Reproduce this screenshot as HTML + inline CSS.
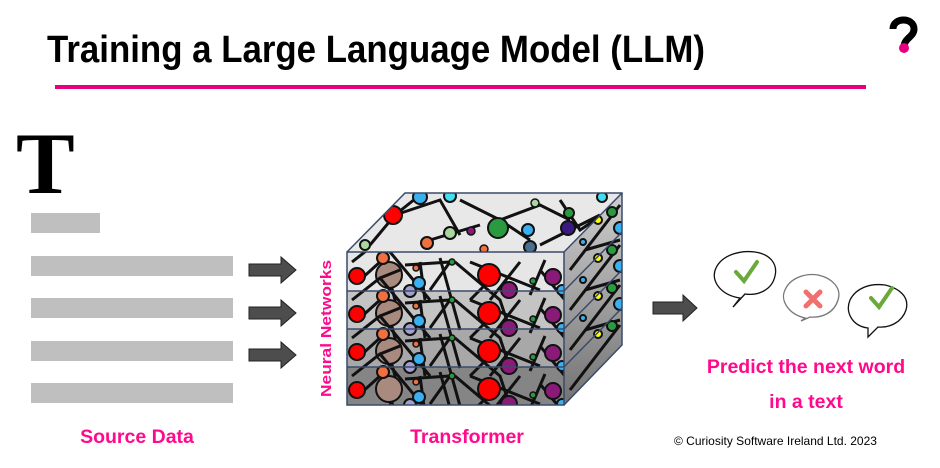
<!DOCTYPE html>
<html><head><meta charset="utf-8"><style>
html,body{margin:0;padding:0;background:#fff;}
svg{display:block;}
</style></head><body>
<svg width="940" height="468" viewBox="0 0 940 468" xmlns="http://www.w3.org/2000/svg">
<defs>
<clipPath id="front"><rect x="347" y="252" width="217" height="153"/></clipPath>
<clipPath id="top"><polygon points="347,252 405,193 622,193 564,252"/></clipPath>
<clipPath id="side"><polygon points="564,252 622,193 622,345 564,405"/></clipPath>
<g id="net">
<g stroke="#111" stroke-width="3" fill="none">
<path d="M352 262 L380 240 L400 232 M380 240 L430 300 M385 262 L395 300 L390 330 M420 262 L425 300 M440 258 L460 330 M455 262 L500 300 L510 330 M470 262 L540 290 M520 262 L490 300 M540 270 L565 300 M360 280 L380 262 M405 265 L450 262 L430 290 M490 280 L470 300 M545 260 L530 295"/>
</g>
<circle cx="357" cy="276" r="8" fill="#f00" stroke="#111" stroke-width="2"/>
<circle cx="389" cy="275" r="13" fill="#a88a7e" stroke="#111" stroke-width="2"/>
<circle cx="383" cy="258" r="6" fill="#f07040" stroke="#111" stroke-width="2"/>
<circle cx="419" cy="283" r="6" fill="#3ab0f0" stroke="#111" stroke-width="2"/>
<circle cx="416" cy="268" r="3" fill="#f07040" stroke="#111" stroke-width="1.5"/>
<circle cx="410" cy="291" r="6" fill="#a0a0d0" stroke="#111" stroke-width="2"/>
<circle cx="452" cy="262" r="3" fill="#2a9a40" stroke="#111" stroke-width="1.5"/>
<circle cx="489" cy="275" r="11" fill="#f00" stroke="#111" stroke-width="2"/>
<circle cx="509" cy="290" r="8" fill="#8a1a78" stroke="#111" stroke-width="2"/>
<circle cx="533" cy="281" r="3" fill="#2a9a40" stroke="#111" stroke-width="1.5"/>
<circle cx="553" cy="277" r="8" fill="#8a1a78" stroke="#111" stroke-width="2"/>
<circle cx="562" cy="290" r="5" fill="#3ab0f0" stroke="#111" stroke-width="2"/>
</g>
<linearGradient id="sg" x1="0" y1="0" x2="0" y2="1"><stop offset="0" stop-color="#d0d0d0"/><stop offset="1" stop-color="#707070"/></linearGradient>
</defs>

<text x="47" y="62" font-family="Liberation Sans, sans-serif" font-weight="bold" font-size="38" textLength="658" lengthAdjust="spacingAndGlyphs" fill="#000">Training a Large Language Model (LLM)</text>
<rect x="55" y="85" width="811" height="4" fill="#e6007e"/>

<!-- logo -->
<path d="M893 29 C893 17 914 17 914 29 C914 37 904 38 904 47" fill="none" stroke="#000" stroke-width="7"/>
<circle cx="904" cy="48" r="5" fill="#e6007e"/>

<!-- T and bars -->
<text x="16" y="193" font-family="Liberation Serif, serif" font-weight="bold" font-size="88" fill="#000">T</text>
<rect x="31" y="213" width="69" height="20" fill="#bfbfbf"/>
<rect x="31" y="256" width="202" height="20" fill="#bfbfbf"/>
<rect x="31" y="298" width="202" height="20" fill="#bfbfbf"/>
<rect x="31" y="341" width="202" height="20" fill="#bfbfbf"/>
<rect x="31" y="383" width="202" height="20" fill="#bfbfbf"/>

<!-- arrows -->
<g fill="#4d4d4d" stroke="#222" stroke-width="1">
<polygon points="249,264 281,264 281,257 296,270 281,283 281,276 249,276"/>
<polygon points="249,307 281,307 281,300 296,313 281,326 281,319 249,319"/>
<polygon points="249,349 281,349 281,342 296,355 281,368 281,361 249,361"/>
<polygon points="653,302 683,302 683,295 697,308 683,321 683,314 653,314"/>
</g>

<!-- cube top -->
<g clip-path="url(#top)">
<rect x="340" y="190" width="290" height="65" fill="#e8e8e8"/>
<g stroke="#111" stroke-width="3" fill="none"><path d="M370 245 L395 215 L420 195 M395 215 L440 200 L460 235 M460 200 L500 220 L540 205 L570 220 M500 220 L530 240 M560 200 L580 230 L610 210 M430 240 L480 225 M540 245 L600 215"/></g>
<circle cx="393" cy="215" r="9" fill="#f00" stroke="#111" stroke-width="2"/>
<circle cx="365" cy="245" r="5" fill="#a8d8a0" stroke="#111" stroke-width="2"/>
<circle cx="427" cy="243" r="6" fill="#f07040" stroke="#111" stroke-width="2"/>
<circle cx="420" cy="197" r="7" fill="#3ab0f0" stroke="#111" stroke-width="2"/>
<circle cx="450" cy="196" r="6" fill="#40e0f0" stroke="#111" stroke-width="2"/>
<circle cx="450" cy="233" r="6" fill="#a8d8a0" stroke="#111" stroke-width="2"/>
<circle cx="498" cy="228" r="10" fill="#2a9a40" stroke="#111" stroke-width="2"/>
<circle cx="471" cy="231" r="4" fill="#8a1a78" stroke="#111" stroke-width="1.5"/>
<circle cx="528" cy="230" r="6" fill="#3ab0f0" stroke="#111" stroke-width="2"/>
<circle cx="568" cy="228" r="7" fill="#3a1a80" stroke="#111" stroke-width="2"/>
<circle cx="569" cy="213" r="5" fill="#2a9a40" stroke="#111" stroke-width="2"/>
<circle cx="535" cy="203" r="4" fill="#a8d8a0" stroke="#111" stroke-width="1.5"/>
<circle cx="602" cy="197" r="5" fill="#40e0f0" stroke="#111" stroke-width="2"/>
<circle cx="530" cy="247" r="6" fill="#4a7090" stroke="#111" stroke-width="2"/>
<circle cx="484" cy="249" r="4" fill="#f07040" stroke="#111" stroke-width="1.5"/>
</g>

<!-- cube side -->
<g clip-path="url(#side)">
<rect x="560" y="190" width="66" height="220" fill="url(#sg)"/>
<g stroke="#111" stroke-width="3" fill="none"><path d="M570 270 L620 205 M570 310 L620 245 M570 350 L620 285 M570 390 L620 325 M585 250 L620 240 M585 290 L620 280 M585 330 L620 320"/></g>
<g stroke="#111" stroke-width="2">
<circle cx="612" cy="212" r="5" fill="#2a9a40"/><circle cx="598" cy="220" r="4" fill="#ff0"/><circle cx="620" cy="228" r="6" fill="#3ab0f0"/>
<circle cx="612" cy="250" r="5" fill="#2a9a40"/><circle cx="598" cy="258" r="4" fill="#ff0"/><circle cx="620" cy="266" r="6" fill="#3ab0f0"/>
<circle cx="612" cy="288" r="5" fill="#2a9a40"/><circle cx="598" cy="296" r="4" fill="#ff0"/><circle cx="620" cy="304" r="6" fill="#3ab0f0"/>
<circle cx="612" cy="326" r="5" fill="#2a9a40"/><circle cx="598" cy="334" r="4" fill="#ff0"/>
<circle cx="583" cy="242" r="3" fill="#3ab0f0"/><circle cx="583" cy="280" r="3" fill="#3ab0f0"/><circle cx="583" cy="318" r="3" fill="#3ab0f0"/>
</g>
</g>

<!-- cube front layers -->
<g clip-path="url(#front)">
<rect x="347" y="252" width="217" height="39" fill="#e6e6e6"/>
<rect x="347" y="291" width="217" height="38" fill="#c4c4c4"/>
<rect x="347" y="329" width="217" height="38" fill="#a8a8a8"/>
<rect x="347" y="367" width="217" height="38" fill="#858585"/>
<use href="#net"/>
<use href="#net" y="38"/>
<use href="#net" y="76"/>
<use href="#net" y="114"/>
</g>
<g fill="none" stroke="#3a4a6a" stroke-width="1.5">
<rect x="347" y="252" width="217" height="153"/>
<line x1="347" y1="291" x2="564" y2="291"/>
<line x1="347" y1="329" x2="564" y2="329"/>
<line x1="347" y1="367" x2="564" y2="367"/>
<polyline points="347,252 405,193 622,193 622,345 564,405"/>
<line x1="564" y1="252" x2="622" y2="193"/>
<line x1="564" y1="291" x2="622" y2="232"/>
<line x1="564" y1="329" x2="622" y2="270"/>
<line x1="564" y1="367" x2="622" y2="308"/>
</g>

<text transform="translate(331,397) rotate(-90)" font-family="Liberation Sans, sans-serif" font-weight="bold" font-size="15" fill="#ff0a8c" textLength="137" lengthAdjust="spacingAndGlyphs">Neural Networks</text>

<!-- bubbles -->
<g fill="#fff" stroke="#111" stroke-width="1.3">
<path d="M740 298 C720 295 710 280 716 268 C722 255 740 250 755 252 C770 254 778 264 775 276 C772 290 758 296 745 294 L733 307 Z"/>
<path d="M805 318 C788 314 780 300 785 290 C790 278 805 273 818 275 C832 278 842 288 838 300 C834 313 822 318 810 317 L801 321 Z" stroke="#777"/>
<path d="M868 328 C852 326 845 312 850 300 C856 288 870 283 885 285 C898 288 910 296 906 310 C902 322 890 328 878 327 L868 337 Z"/>
</g>
<path d="M736 272 L744 281 L757 262" fill="none" stroke="#6aaa3a" stroke-width="4" stroke-linecap="round"/>
<path d="M806 292 L820 306 M820 292 L806 306" fill="none" stroke="#f07070" stroke-width="5" stroke-linecap="round"/>
<path d="M871 298 L879 307 L892 288" fill="none" stroke="#6aaa3a" stroke-width="4" stroke-linecap="round"/>

<g font-family="Liberation Sans, sans-serif" font-weight="bold" font-size="19.5" fill="#ff0a8c">
<text x="137" y="443" text-anchor="middle">Source Data</text>
<text x="467" y="443" text-anchor="middle">Transformer</text>
<text x="806" y="373" text-anchor="middle">Predict the next word</text>
<text x="806" y="408" text-anchor="middle">in a text</text>
</g>
<text x="674" y="445" font-family="Liberation Sans, sans-serif" font-size="12" fill="#000">© Curiosity Software Ireland Ltd. 2023</text>
</svg>
</body></html>
